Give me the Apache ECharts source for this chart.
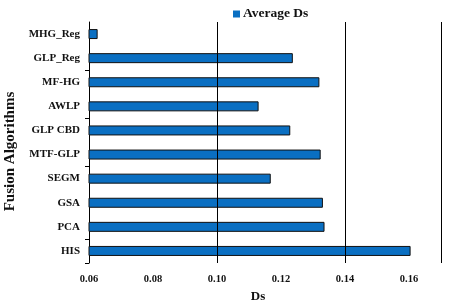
<!DOCTYPE html>
<html>
<head>
<meta charset="utf-8">
<script src="https://cdn.jsdelivr.net/npm/echarts@6/dist/echarts.min.js"></script>
<style>
html,body{margin:0;padding:0;background:#fff;}
#chart{width:458px;height:306px;}
</style>
</head>
<body>
<div id="chart"></div>
<script>
// top to bottom, as in the picture
const algorithms = ['MHG_Reg', 'GLP_Reg', 'MF-HG', 'AWLP', 'GLP CBD', 'MTF-GLP', 'SEGM', 'GSA', 'PCA', 'HIS']
const averageDs = [0.0627, 0.1237, 0.1320, 0.1130, 0.1229, 0.1324, 0.1168, 0.1331, 0.1336, 0.1605]
const gridAt = [0.10, 0.14, 0.17]
// category boundaries that carry a tick in the original
const tickAt = [2, 4, 6, 9]

const font = 'Liberation Serif'
const blue = '#0a6fc2'

const chart = echarts.init(document.getElementById('chart'))
chart.setOption({
  animation: false,
  legend: {
    data: ['Average Ds'],
    left: 228,
    top: 2,
    icon: 'rect',
    itemWidth: 7,
    itemHeight: 7,
    itemGap: 4,
    itemStyle: {borderWidth: 0},
    textStyle: {fontFamily: font, fontWeight: 'bold', fontSize: 13.5, color: '#111', padding: [0, 0, 0, -2]}
  },
  grid: {left: 89, right: 17, top: 22, bottom: 43, outerBoundsMode: 'none'},
  xAxis: {
    type: 'value',
    min: 0.06,
    max: 0.17,
    interval: 0.02,
    name: 'Ds',
    nameLocation: 'middle',
    nameGap: 26,
    nameTextStyle: {fontFamily: font, fontWeight: 'bold', fontSize: 13, color: '#111', padding: [0, 14, 0, 0]},
    axisLine: {show: false},
    axisTick: {show: false},
    splitLine: {show: false},
    axisLabel: {
      showMaxLabel: false,
      margin: 11,
      fontFamily: font, fontWeight: 'bold', fontSize: 10.5, color: '#111',
      formatter: v => v.toFixed(2)
    }
  },
  yAxis: {
    type: 'category',
    data: algorithms,
    inverse: true,
    name: 'Fusion Algorithms',
    nameLocation: 'middle',
    nameGap: 68,
    nameRotate: 90,
    nameTextStyle: {fontFamily: font, fontWeight: 'bold', fontSize: 15, color: '#111', padding: [0, 18, 0, 0]},
    axisLine: {show: true, lineStyle: {color: '#000', width: 1}},
    axisTick: {show: true, interval: i => tickAt.includes(i), length: 4, lineStyle: {color: '#000'}},
    axisLabel: {margin: 9, fontFamily: font, fontWeight: 'bold', fontSize: 11, color: '#111'}
  },
  series: [{
    name: 'Average Ds',
    type: 'bar',
    data: averageDs,
    barWidth: 10,
    itemStyle: {color: blue, borderColor: '#111', borderWidth: 1},
    markLine: {
      silent: true,
      symbol: 'none',
      label: {show: false},
      lineStyle: {color: '#000', width: 1, type: 'solid'},
      data: gridAt.map(v => ({xAxis: v}))
    }
  }]
})
</script>
</body>
</html>
